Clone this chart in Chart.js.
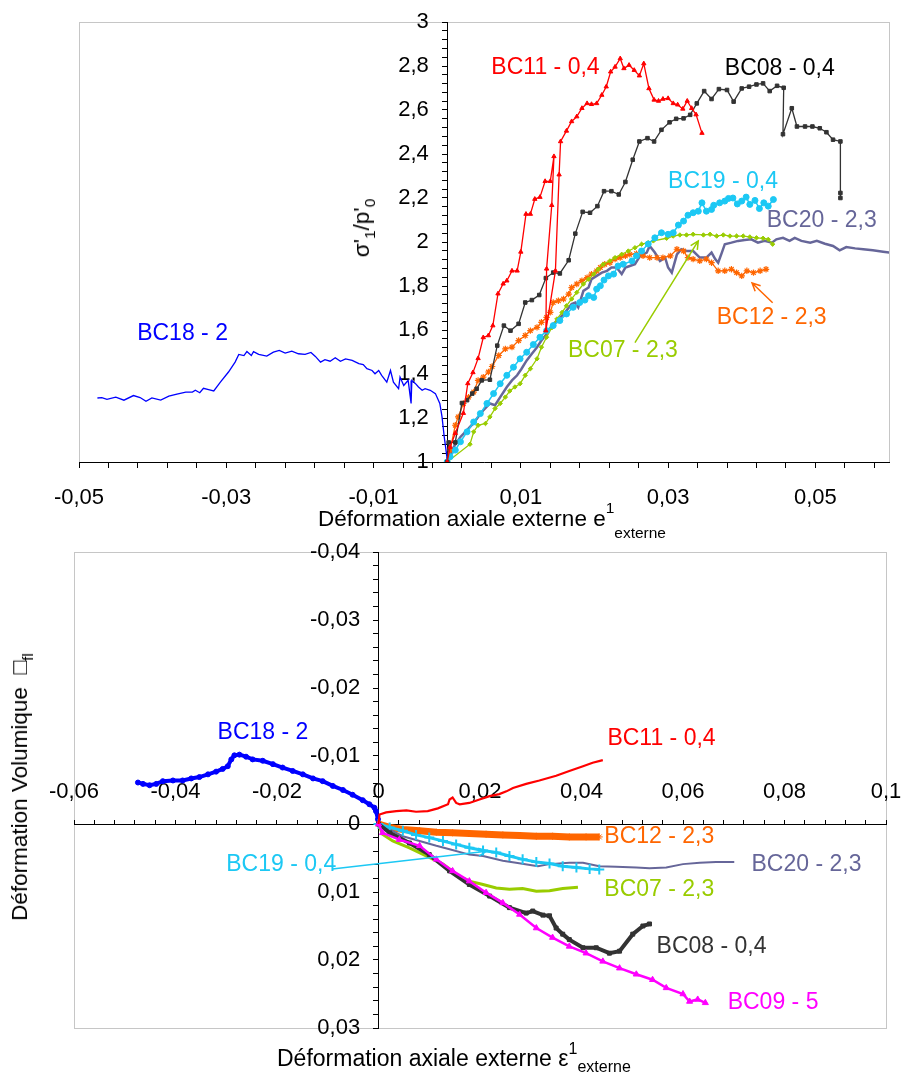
<!DOCTYPE html>
<html>
<head>
<meta charset="utf-8">
<script src="https://cdn.jsdelivr.net/npm/chart.js@4.4.1/dist/chart.umd.min.js"></script>
<style>
  body { margin: 0; background: #fff; }
  #page { position: relative; width: 901px; height: 1073px; font-family: "Liberation Sans", Arial, sans-serif; color: #000; }
  canvas { position: absolute; left: 0; }
  .ttl { position: absolute; font-size: 22.5px; line-height: 26px; white-space: nowrap; }
  .ttl span { position: relative; font-size: 15.5px; }
  .vert { transform: translate(-50%, -50%) rotate(-90deg); }
</style>
</head>
<body>
<div id="page">
  <canvas id="haut" width="901" height="545" style="top:0"></canvas>
  <canvas id="bas" width="901" height="543" style="top:530px"></canvas>
  <div class="ttl" style="left:318px; top:506px">Déformation axiale externe e<span style="top:-13px">1</span><span style="top:12px">externe</span></div>
  <div class="ttl vert" style="left:363px; top:228px">σ'<span style="top:6px">1</span>/p'<span style="top:6px">0</span></div>
  <div class="ttl" style="left:277px; top:1045px; font-size:23px">Déformation axiale externe ε<span style="top:-12px; font-size:16px">1</span><span style="top:6px; font-size:16px">externe</span></div>
  <div class="ttl vert" style="left:21px; top:787px">Déformation Volumique&nbsp;&nbsp;□<span style="top:6px">fl</span></div>
</div>
<script>
// ---- valeurs ----
// haut : σ'1/p'0 en fonction de la déformation axiale externe
const bc11Haut = [[0,1],[0.0004,1.068],[0.0011,1.131],[0.0022,1.222],[0.0028,1.357],[0.0035,1.407],[0.0042,1.471],[0.0049,1.566],[0.0056,1.575],[0.0062,1.62],[0.0069,1.765],[0.0076,1.81],[0.0081,1.824],[0.0088,1.869],[0.0095,1.869],[0.01,1.955],[0.0107,2.127],[0.0113,2.127],[0.0119,2.195],[0.0126,2.204],[0.0133,2.276],[0.014,2.276],[0.0145,2.389],[0.0142,2.167],[0.0135,1.878],[0.0134,1.597],[0.0147,1.869],[0.0152,2.306],[0.0154,2.457],[0.0162,2.505],[0.0169,2.548],[0.0176,2.57],[0.0183,2.608],[0.019,2.63],[0.0196,2.626],[0.0203,2.63],[0.021,2.668],[0.0216,2.706],[0.0222,2.774],[0.0228,2.796],[0.0235,2.834],[0.024,2.789],[0.0247,2.804],[0.0254,2.781],[0.0261,2.756],[0.0267,2.811],[0.0274,2.698],[0.0281,2.646],[0.0287,2.641],[0.0293,2.65],[0.03,2.653],[0.0307,2.63],[0.0313,2.624],[0.032,2.605],[0.0326,2.641],[0.0332,2.608],[0.0338,2.579],[0.0346,2.495]];
const bc08Haut = [[0,1],[0.0002,1.089],[0.0011,1.089],[0.002,1.268],[0.0027,1.281],[0.0034,1.311],[0.004,1.333],[0.0047,1.371],[0.0058,1.374],[0.0068,1.529],[0.0077,1.62],[0.0086,1.597],[0.0097,1.628],[0.0106,1.725],[0.0115,1.736],[0.0125,1.759],[0.0134,1.836],[0.0144,1.861],[0.0153,1.857],[0.0165,1.917],[0.0174,2.038],[0.0184,2.137],[0.0194,2.133],[0.0204,2.163],[0.0213,2.231],[0.0223,2.231],[0.0233,2.216],[0.0242,2.273],[0.0252,2.374],[0.0261,2.457],[0.0272,2.472],[0.0281,2.457],[0.0291,2.51],[0.0302,2.544],[0.0311,2.56],[0.0321,2.562],[0.033,2.578],[0.0339,2.63],[0.0349,2.686],[0.0359,2.65],[0.0369,2.695],[0.038,2.691],[0.0389,2.638],[0.04,2.698],[0.041,2.706],[0.042,2.716],[0.0429,2.721],[0.0438,2.686],[0.0448,2.71],[0.0457,2.701],[0.0456,2.49],[0.0468,2.608],[0.0475,2.525],[0.0486,2.525],[0.0496,2.525],[0.0506,2.517],[0.0515,2.499],[0.0524,2.465],[0.0534,2.457],[0.0534,2.223],[0.0534,2.2]];
const bc19Haut = [[0,1],[0.0004,1.024],[0.0011,1.054],[0.0018,1.092],[0.0027,1.137],[0.0036,1.182],[0.0045,1.22],[0.0054,1.266],[0.0063,1.311],[0.0072,1.356],[0.0081,1.394],[0.009,1.431],[0.0099,1.469],[0.0108,1.499],[0.0117,1.534],[0.0126,1.567],[0.0135,1.597],[0.0144,1.62],[0.0153,1.643],[0.0162,1.673],[0.0171,1.703],[0.018,1.725],[0.0187,1.736],[0.0192,1.756],[0.0199,1.748],[0.0203,1.786],[0.0208,1.801],[0.0213,1.827],[0.0219,1.846],[0.0226,1.854],[0.0232,1.891],[0.0239,1.899],[0.0251,1.914],[0.0257,1.937],[0.0264,1.959],[0.0273,1.991],[0.0282,2.019],[0.0291,2.042],[0.03,2.035],[0.0307,2.042],[0.0314,2.077],[0.0321,2.095],[0.0327,2.122],[0.0334,2.133],[0.0341,2.14],[0.0346,2.178],[0.0352,2.14],[0.0359,2.148],[0.0362,2.167],[0.037,2.178],[0.0377,2.186],[0.0382,2.198],[0.0388,2.2],[0.0394,2.173],[0.04,2.186],[0.0406,2.204],[0.0411,2.171],[0.0418,2.189],[0.0424,2.152],[0.043,2.178],[0.0436,2.163],[0.0443,2.193]];
const bc07Haut = [[0,1],[0.0031,1.081],[0.0036,1.137],[0.0042,1.167],[0.0052,1.175],[0.0058,1.205],[0.0065,1.243],[0.0072,1.266],[0.0079,1.295],[0.0085,1.323],[0.0092,1.341],[0.0099,1.356],[0.0106,1.394],[0.0113,1.424],[0.0122,1.469],[0.0128,1.522],[0.0135,1.567],[0.0142,1.61],[0.0149,1.65],[0.0156,1.68],[0.0162,1.71],[0.0169,1.741],[0.0176,1.771],[0.0185,1.809],[0.0192,1.831],[0.0199,1.854],[0.0205,1.876],[0.0212,1.899],[0.0221,1.914],[0.0228,1.929],[0.0237,1.944],[0.0246,1.959],[0.0255,1.974],[0.0264,1.99],[0.0273,1.997],[0.028,2.005],[0.0298,2.017],[0.0307,2.027],[0.0316,2.032],[0.0325,2.032],[0.0334,2.035],[0.0348,2.032],[0.0357,2.035],[0.0366,2.027],[0.0375,2.032],[0.0384,2.027],[0.0393,2.027],[0.0402,2.027],[0.0411,2.023],[0.042,2.019],[0.0429,2.017],[0.0436,2.012],[0.0442,1.99]];
const bc12Haut = [[0,1],[0.0004,1.054],[0.0011,1.167],[0.0015,1.205],[0.0022,1.266],[0.0029,1.295],[0.0036,1.318],[0.0042,1.371],[0.0049,1.386],[0.0056,1.409],[0.0061,1.434],[0.007,1.484],[0.0079,1.514],[0.0088,1.522],[0.0097,1.552],[0.0106,1.575],[0.0113,1.597],[0.0122,1.612],[0.0128,1.635],[0.0135,1.657],[0.014,1.68],[0.0144,1.725],[0.0151,1.733],[0.0158,1.741],[0.0165,1.763],[0.0169,1.793],[0.0176,1.809],[0.0183,1.824],[0.019,1.838],[0.0196,1.854],[0.0203,1.869],[0.0208,1.884],[0.0214,1.899],[0.0221,1.906],[0.0228,1.922],[0.0235,1.929],[0.0242,1.937],[0.0248,1.944],[0.0257,1.947],[0.0266,1.937],[0.0275,1.929],[0.0285,1.929],[0.0293,1.929],[0.0303,1.937],[0.0312,1.967],[0.0321,1.959],[0.0327,1.929],[0.0334,1.922],[0.0343,1.914],[0.0352,1.922],[0.0359,1.906],[0.0368,1.869],[0.0377,1.869],[0.0386,1.876],[0.0393,1.861],[0.04,1.846],[0.0407,1.869],[0.0416,1.861],[0.0425,1.869],[0.0433,1.876]];
const bc20Haut = [[0,1],[0.0009,1.069],[0.0018,1.114],[0.0027,1.145],[0.0036,1.178],[0.0042,1.205],[0.0049,1.235],[0.0058,1.266],[0.0065,1.258],[0.0072,1.295],[0.0081,1.341],[0.0088,1.371],[0.0095,1.394],[0.0101,1.424],[0.0108,1.462],[0.0115,1.492],[0.0122,1.522],[0.0128,1.552],[0.0135,1.582],[0.0142,1.62],[0.0149,1.643],[0.0156,1.665],[0.0162,1.688],[0.0169,1.718],[0.0174,1.725],[0.0178,1.703],[0.0185,1.778],[0.0192,1.793],[0.0196,1.831],[0.0203,1.846],[0.021,1.861],[0.0217,1.869],[0.0223,1.884],[0.023,1.884],[0.0237,1.854],[0.0242,1.884],[0.0248,1.891],[0.0255,1.899],[0.0262,1.937],[0.0271,1.952],[0.0275,1.982],[0.0282,1.952],[0.0289,1.914],[0.0296,1.929],[0.03,1.884],[0.0305,1.861],[0.0312,1.944],[0.0318,1.967],[0.0325,1.959],[0.0334,1.959],[0.0343,1.929],[0.0352,1.929],[0.0359,1.952],[0.0364,1.922],[0.0368,1.906],[0.0373,1.952],[0.0377,1.99],[0.0386,1.997],[0.0395,2.005],[0.0404,2.009],[0.0413,2.012],[0.0422,1.997],[0.0431,2.005],[0.0441,1.997],[0.0447,2.012],[0.0456,2.019],[0.0465,2.005],[0.0472,2.019],[0.0481,2.005],[0.0493,1.997],[0.0502,2.005],[0.0513,1.992],[0.0524,1.982],[0.0533,1.962],[0.0542,1.977],[0.0554,1.971],[0.0565,1.967],[0.0578,1.962],[0.0592,1.956],[0.0615,1.946]];
const bc18Haut = [[0,1.001],[-0.0001,1.039],[-0.0004,1.114],[-0.0007,1.205],[-0.001,1.266],[-0.0016,1.311],[-0.0023,1.326],[-0.003,1.333],[-0.0034,1.326],[-0.0039,1.341],[-0.0043,1.356],[-0.0048,1.371],[-0.0049,1.266],[-0.0053,1.371],[-0.0059,1.348],[-0.0064,1.386],[-0.0066,1.333],[-0.0073,1.363],[-0.0077,1.416],[-0.0082,1.363],[-0.0089,1.394],[-0.0093,1.416],[-0.0098,1.401],[-0.0102,1.416],[-0.0109,1.424],[-0.0114,1.443],[-0.012,1.447],[-0.0129,1.462],[-0.0138,1.469],[-0.0145,1.458],[-0.0152,1.474],[-0.0159,1.458],[-0.0166,1.465],[-0.0172,1.454],[-0.0179,1.48],[-0.0185,1.498],[-0.0193,1.489],[-0.0202,1.492],[-0.0211,1.504],[-0.022,1.495],[-0.0228,1.507],[-0.0236,1.499],[-0.0245,1.481],[-0.0256,1.489],[-0.0263,1.502],[-0.0266,1.484],[-0.0272,1.502],[-0.0276,1.484],[-0.0283,1.489],[-0.0288,1.454],[-0.0297,1.409],[-0.0308,1.363],[-0.0317,1.323],[-0.0324,1.329],[-0.0331,1.335],[-0.0336,1.315],[-0.0342,1.326],[-0.0346,1.318],[-0.0355,1.318],[-0.0367,1.308],[-0.0378,1.299],[-0.0389,1.281],[-0.0401,1.291],[-0.0409,1.276],[-0.0417,1.293],[-0.0426,1.302],[-0.0439,1.281],[-0.045,1.295],[-0.0462,1.285],[-0.0469,1.293],[-0.0475,1.291]];

// bas : déformation volumique en fonction de la déformation axiale externe
const bc18Bas = [[0,0],[-0.0001,-0.0007],[-0.0005,-0.0019],[-0.0008,-0.0024],[-0.0018,-0.0029],[-0.0031,-0.0035],[-0.0051,-0.0043],[-0.007,-0.005],[-0.009,-0.0056],[-0.011,-0.0063],[-0.0129,-0.0067],[-0.0149,-0.0073],[-0.0169,-0.0078],[-0.0189,-0.0083],[-0.0208,-0.0088],[-0.0228,-0.0093],[-0.0248,-0.0095],[-0.0261,-0.0099],[-0.0274,-0.0102],[-0.0284,-0.0101],[-0.029,-0.0095],[-0.0297,-0.0085],[-0.0307,-0.0081],[-0.032,-0.0077],[-0.0336,-0.0073],[-0.0353,-0.0069],[-0.0369,-0.0067],[-0.0386,-0.0064],[-0.0405,-0.0064],[-0.0425,-0.0063],[-0.0438,-0.0059],[-0.0451,-0.0057],[-0.0464,-0.0059],[-0.0474,-0.0061]];
const bc11Bas = [[0,0],[0.0002,-0.0014],[0.0015,-0.0017],[0.0035,-0.0019],[0.0055,-0.002],[0.0074,-0.0018],[0.0097,-0.0019],[0.0117,-0.0023],[0.0137,-0.0029],[0.014,-0.0036],[0.0146,-0.0039],[0.0153,-0.0031],[0.016,-0.0029],[0.0179,-0.0031],[0.0199,-0.0036],[0.0219,-0.0041],[0.0238,-0.0044],[0.0252,-0.0048],[0.0265,-0.0053],[0.0291,-0.0059],[0.0317,-0.0064],[0.035,-0.0071],[0.0376,-0.0078],[0.0403,-0.0085],[0.0422,-0.009],[0.0442,-0.0094]];
const bc12Bas = [[0,0],[0.0022,0.0005],[0.0048,0.0008],[0.0081,0.001],[0.0114,0.0012],[0.0146,0.0013],[0.0179,0.0014],[0.0212,0.0015],[0.0245,0.0016],[0.0278,0.0017],[0.0311,0.0018],[0.0343,0.0018],[0.0376,0.0019],[0.0409,0.0019],[0.0435,0.0019]];
const bc19Bas = [[0,0],[0.0022,0.0005],[0.0048,0.001],[0.0074,0.0016],[0.01,0.002],[0.0127,0.0025],[0.0153,0.003],[0.0179,0.0035],[0.0206,0.0039],[0.0232,0.0042],[0.0258,0.0047],[0.0284,0.0052],[0.0311,0.0056],[0.0337,0.0058],[0.0363,0.0062],[0.039,0.0064],[0.0416,0.0066],[0.0435,0.0067]];
const bc20Bas = [[0,0],[0.0048,0.0018],[0.0114,0.0032],[0.014,0.0037],[0.0179,0.0045],[0.0206,0.0047],[0.0245,0.0054],[0.0271,0.0057],[0.0314,0.0062],[0.0337,0.0059],[0.0376,0.0057],[0.0403,0.0057],[0.0435,0.0062],[0.0468,0.0063],[0.0508,0.0064],[0.0534,0.0065],[0.0567,0.0064],[0.06,0.0059],[0.0633,0.0057],[0.0665,0.0056],[0.0701,0.0056]];
const bc07Bas = [[0,0],[0.0008,0.0015],[0.0028,0.0025],[0.0061,0.0035],[0.0094,0.0047],[0.0127,0.0059],[0.016,0.0077],[0.0179,0.0084],[0.0206,0.0089],[0.0232,0.0094],[0.0258,0.0096],[0.0284,0.0095],[0.0311,0.0099],[0.0337,0.0098],[0.0363,0.0095],[0.0393,0.0093]];
const bc08Bas = [[0,0],[0.0022,0.0013],[0.0061,0.0028],[0.01,0.0045],[0.014,0.0069],[0.0179,0.0089],[0.0219,0.0106],[0.0258,0.0123],[0.0291,0.0131],[0.0304,0.0128],[0.0324,0.0134],[0.0337,0.0135],[0.035,0.0153],[0.0363,0.0162],[0.0376,0.017],[0.0403,0.0182],[0.0429,0.0182],[0.0455,0.019],[0.0475,0.0187],[0.0501,0.0162],[0.0521,0.015],[0.0534,0.0147]];
const bc09Bas = [[0,0],[0.0008,0.0013],[0.0041,0.0023],[0.0081,0.0032],[0.0114,0.0052],[0.0146,0.0069],[0.0179,0.0084],[0.0212,0.0101],[0.0245,0.0116],[0.0278,0.0133],[0.0311,0.0153],[0.0343,0.0167],[0.0376,0.018],[0.0409,0.019],[0.0442,0.0202],[0.0475,0.0212],[0.0508,0.0221],[0.054,0.0229],[0.0567,0.0241],[0.06,0.025],[0.0613,0.0261],[0.0629,0.0258],[0.0644,0.0263]];

// graduations portant une étiquette
const xHautLabels = [-0.05, -0.03, -0.01, 0.01, 0.03, 0.05];
const yHautLabels = [1, 1.2, 1.4, 1.6, 1.8, 2, 2.2, 2.4, 2.6, 2.8, 3];
const xBasLabels = [-0.06, -0.04, -0.02, 0, 0.02, 0.04, 0.06, 0.08, 0.1];
const yBasLabels = [-0.04, -0.03, -0.02, -0.01, 0, 0.01, 0.02, 0.03];

const ROUGE = '#ff0000', NOIR = '#333333', CIEL = '#1cc8f4', VERT = '#99cc00';
const ORANGE = '#ff6600', ARDOISE = '#666699', BLEU = '#0000ff', MAGENTA = '#ff00ff';
const police = '"Liberation Sans", Arial, sans-serif';

function graduations(debut, pas, n) {
  const t = [];
  for (let k = 0; k <= n; k++) t.push(Math.round((debut + k * pas) * 10000) / 10000);
  return t;
}
function fmt(v) { return String(Math.round(v * 1000) / 1000).replace('.', ','); }
function etiquettes(majeures, suffixe) {
  return v => majeures.some(m => Math.abs(m - v) < 1e-9) ? fmt(v) + suffixe : '';
}
function serie(label, pts, couleur, style) {
  return Object.assign({
    label: label,
    data: pts.map(p => ({x: p[0], y: p[1]})),
    showLine: true, tension: 0,
    borderColor: couleur, backgroundColor: couleur,
    pointBackgroundColor: couleur, pointBorderColor: couleur,
    borderWidth: 1.3, pointRadius: 0, pointBorderWidth: 1
  }, style);
}
function axe(id, min, max, pos, ticks, labels, suffixe, extra) {
  return Object.assign({
    type: 'linear', axis: id, min: min, max: max, position: pos,
    afterBuildTicks: s => { s.ticks = ticks.map(v => ({value: v})); },
    grid: { drawOnChartArea: false, drawTicks: true, tickLength: 5, tickColor: '#000', tickWidth: 1 },
    border: { color: '#000', width: 1 },
    ticks: { autoSkip: false, maxRotation: 0, color: '#000', font: {family: police, size: 22},
             callback: etiquettes(labels, suffixe) }
  }, extra);
}

// cadre gris autour de la zone de tracé
const cadre = {
  id: 'cadre',
  beforeDraw(chart) {
    const {ctx, chartArea: a} = chart;
    ctx.save();
    ctx.strokeStyle = '#c6c6c6';
    ctx.lineWidth = 1;
    ctx.strokeRect(Math.round(a.left) + 0.5, Math.round(a.top) + 0.5,
                   Math.round(a.right - a.left), Math.round(a.bottom - a.top));
    ctx.restore();
  }
};

// étiquettes des essais et flèches, placées en coordonnées des axes
function notes(textes, fleches) {
  return {
    id: 'notes',
    afterDatasetsDraw(chart) {
      const {ctx} = chart;
      const sx = chart.scales.x, sy = chart.scales.y;
      ctx.save();
      fleches.forEach(f => {
        const x1 = sx.getPixelForValue(f.de[0]), y1 = sy.getPixelForValue(f.de[1]);
        const x2 = sx.getPixelForValue(f.a[0]), y2 = sy.getPixelForValue(f.a[1]);
        const ang = Math.atan2(y2 - y1, x2 - x1);
        ctx.strokeStyle = f.couleur;
        ctx.lineWidth = 1.5;
        ctx.beginPath();
        ctx.moveTo(x1, y1);
        ctx.lineTo(x2, y2);
        ctx.moveTo(x2 - 9 * Math.cos(ang - 0.45), y2 - 9 * Math.sin(ang - 0.45));
        ctx.lineTo(x2, y2);
        ctx.lineTo(x2 - 9 * Math.cos(ang + 0.45), y2 - 9 * Math.sin(ang + 0.45));
        ctx.stroke();
      });
      ctx.font = '23px ' + police;
      ctx.textBaseline = 'middle';
      ctx.textAlign = 'left';
      textes.forEach(t => {
        ctx.fillStyle = t.couleur;
        ctx.fillText(t.texte, sx.getPixelForValue(t.x), sy.getPixelForValue(t.y));
      });
      ctx.restore();
    }
  };
}

const textesHaut = [
  {texte: 'BC11 - 0,4', x: 0.006, y: 2.792, couleur: ROUGE},
  {texte: 'BC08 - 0,4', x: 0.0377, y: 2.787, couleur: '#000'},
  {texte: 'BC19 - 0,4', x: 0.03, y: 2.276, couleur: CIEL},
  {texte: 'BC20 - 2,3', x: 0.0434, y: 2.095, couleur: ARDOISE},
  {texte: 'BC12 - 2,3', x: 0.0366, y: 1.656, couleur: ORANGE},
  {texte: 'BC07 - 2,3', x: 0.0164, y: 1.507, couleur: VERT},
  {texte: 'BC18 - 2', x: -0.0421, y: 1.584, couleur: BLEU}
];
const flechesHaut = [
  {de: [0.0255, 1.543], a: [0.0341, 2.005], couleur: VERT},
  {de: [0.0442, 1.724], a: [0.0414, 1.814], couleur: ORANGE}
];
const textesBas = [
  {texte: 'BC18 - 2', x: -0.0317, y: -0.0135, couleur: BLEU},
  {texte: 'BC11 - 0,4', x: 0.0451, y: -0.0125, couleur: ROUGE},
  {texte: 'BC12 - 2,3', x: 0.0445, y: 0.0019, couleur: ORANGE},
  {texte: 'BC20 - 2,3', x: 0.0735, y: 0.006, couleur: ARDOISE},
  {texte: 'BC19 - 0,4', x: -0.03, y: 0.006, couleur: CIEL},
  {texte: 'BC07 - 2,3', x: 0.0445, y: 0.0096, couleur: VERT},
  {texte: 'BC08 - 0,4', x: 0.0548, y: 0.0181, couleur: NOIR},
  {texte: 'BC09 - 5', x: 0.0688, y: 0.0262, couleur: MAGENTA}
];
const flechesBas = [
  {de: [-0.0091, 0.0066], a: [0.0213, 0.004], couleur: CIEL}
];

const communs = {
  responsive: false, animation: false, devicePixelRatio: 1,
  plugins: { legend: {display: false}, tooltip: {enabled: false} }
};

const graphHaut = new Chart(document.getElementById('haut').getContext('2d'), {
  type: 'scatter',
  data: {
    datasets: [
      serie('BC11 - 0,4', bc11Haut, ROUGE, {pointStyle: 'triangle', pointRadius: 2.5}),
      serie('BC08 - 0,4', bc08Haut, NOIR, {pointStyle: 'rect', pointRadius: 2.5}),
      serie('BC19 - 0,4', bc19Haut, CIEL, {pointStyle: 'circle', pointRadius: 3, borderWidth: 1.5}),
      serie('BC07 - 2,3', bc07Haut, VERT, {pointStyle: 'rectRot', pointRadius: 2.2}),
      serie('BC12 - 2,3', bc12Haut, ORANGE, {pointStyle: 'star', pointRadius: 3.2, pointBorderWidth: 1.2}),
      serie('BC20 - 2,3', bc20Haut, ARDOISE, {borderWidth: 2.5}),
      serie('BC18 - 2', bc18Haut, BLEU, {borderWidth: 1.3})
    ]
  },
  options: Object.assign({}, communs, {
    layout: { padding: {left: 79, right: 12, top: 22, bottom: 0} },
    scales: {
      x: axe('x', -0.05, 0.06, 'bottom', graduations(-0.05, 0.004, 27), xHautLabels, '', {
        afterFit: s => { s.height = 83; }
      }),
      y: axe('y', 1, 3, {x: 0}, graduations(1, 0.04, 50), yHautLabels, '   ', {})
    }
  }),
  plugins: [cadre, notes(textesHaut, flechesHaut)]
});
// graduations de l'axe x du haut : plus longues, étiquettes sous l'axe
graphHaut.options.scales.x.ticks.padding = 17;
graphHaut.options.scales.x.grid.tickLength = 6;
graphHaut.update();

const graphBas = new Chart(document.getElementById('bas').getContext('2d'), {
  type: 'scatter',
  data: {
    datasets: [
      serie('BC11 - 0,4', bc11Bas, ROUGE, {borderWidth: 2.2}),
      serie('BC09 - 5', bc09Bas, MAGENTA, {pointStyle: 'triangle', pointRadius: 3.5, borderWidth: 2.5}),
      serie('BC08 - 0,4', bc08Bas, NOIR, {pointStyle: 'rect', pointRadius: 2.8, borderWidth: 4}),
      serie('BC07 - 2,3', bc07Bas, VERT, {borderWidth: 3}),
      serie('BC19 - 0,4', bc19Bas, CIEL, {pointStyle: 'cross', pointRadius: 5, pointBorderWidth: 2, borderWidth: 3}),
      serie('BC20 - 2,3', bc20Bas, ARDOISE, {borderWidth: 2}),
      serie('BC12 - 2,3', bc12Bas, ORANGE, {pointStyle: 'star', pointRadius: 3.5, borderWidth: 7}),
      serie('BC18 - 2', bc18Bas, BLEU, {pointStyle: 'circle', pointRadius: 2.5, borderWidth: 4})
    ]
  },
  options: Object.assign({}, communs, {
    layout: { padding: {left: 74, right: 15, top: 22, bottom: 45} },
    scales: {
      x: axe('x', -0.06, 0.1, {y: 0}, graduations(-0.06, 0.004, 40), xBasLabels, '', {}),
      y: axe('y', -0.04, 0.03, {x: 0}, graduations(-0.04, 0.002, 35), yBasLabels, '   ', {reverse: true})
    }
  }),
  plugins: [cadre, notes(textesBas, flechesBas)]
});
// axe x du bas : graduations vers le haut, étiquettes au-dessus de l'axe
graphBas.options.scales.x.grid.tickLength = -5;
graphBas.options.scales.x.ticks.padding = -40;
graphBas.update();
</script>
</body>
</html>
